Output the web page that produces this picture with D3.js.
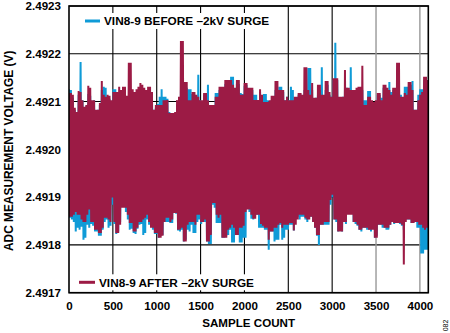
<!DOCTYPE html>
<html>
<head>
<meta charset="utf-8">
<script src="https://cdn.jsdelivr.net/npm/d3@7"></script>
<style>
  html, body { margin: 0; padding: 0; background: #ffffff; }
  svg { display: block; }
  text { font-family: "Liberation Sans", Arial, Helvetica, sans-serif; font-weight: bold; fill: #000; }
</style>
</head>
<body>
<svg id="chart" width="450" height="333"></svg>
<script>
// ---------------- data ----------------
const yTicks = [2.4917, 2.4918, 2.4919, 2.4920, 2.4921, 2.4922, 2.4923];
const xTicks = [0, 500, 1000, 1500, 2000, 2500, 3000, 3500, 4000];
const xTicksGray = [3500, 4000];
const seriesNames = ["VIN8-9 BEFORE \u20132kV SURGE", "VIN8-9 AFTER \u20132kV SURGE"];
const totalSamples = 4096;
const sampleStep = 11; // decimated sample count shown

// VIN8-9 BEFORE -2kV SURGE (V)
const beforeSurge = [
2.492126,2.491857,2.492124,2.491853,2.492108,2.491848,2.492083,2.491828,2.492078,2.491836,
2.492114,2.491832,2.492183,2.491838,2.492103,2.491811,2.492087,2.491815,2.492091,2.491842,
2.492116,2.491836,2.492112,2.491844,2.492099,2.491840,2.492103,2.491828,2.492078,2.491828,
2.492083,2.491819,2.492093,2.491819,2.492124,2.491832,2.492131,2.491848,2.492129,2.491853,
2.492108,2.491836,2.492106,2.491840,2.492095,2.491884,2.492126,2.491844,2.492126,2.491823,
2.492114,2.491828,2.492112,2.491848,2.492118,2.491880,2.492103,2.491880,2.492114,2.491869,
2.492103,2.491853,2.492108,2.491832,2.492114,2.491834,2.492120,2.491825,2.492112,2.491823,
2.492120,2.491834,2.492124,2.491842,2.492126,2.491844,2.492120,2.491821,2.492116,2.491825,
2.492114,2.491853,2.492120,2.491842,2.492114,2.491842,2.492112,2.491832,2.492083,2.491823,
2.492087,2.491823,2.492095,2.491815,2.492110,2.491819,2.492126,2.491821,2.492110,2.491848,
2.492110,2.491848,2.492106,2.491848,2.492078,2.491846,2.492076,2.491846,2.492076,2.491867,
2.492076,2.491865,2.492095,2.491830,2.492103,2.491828,2.492124,2.491832,2.492135,2.491807,
2.492133,2.491811,2.492129,2.491832,2.492126,2.491828,2.492126,2.491842,2.492116,2.491825,
2.492114,2.491825,2.492108,2.491848,2.492156,2.491853,2.492103,2.491844,2.492099,2.491848,
2.492114,2.491848,2.492110,2.491807,2.492135,2.491802,2.492093,2.491802,2.492089,2.491884,
2.492089,2.491878,2.492118,2.491846,2.492118,2.491846,2.492124,2.491846,2.492124,2.491815,
2.492124,2.491815,2.492137,2.491819,2.492137,2.491821,2.492137,2.491832,2.492152,2.491805,
2.492152,2.491805,2.492124,2.491821,2.492137,2.491821,2.492137,2.491805,2.492118,2.491805,
2.492116,2.491815,2.492133,2.491815,2.492135,2.491878,2.492124,2.491869,2.492124,2.491855,
2.492124,2.491853,2.492114,2.491863,2.492114,2.491863,2.492103,2.491836,2.492120,2.491836,
2.492108,2.491836,2.492116,2.491832,2.492116,2.491832,2.492103,2.491790,2.492095,2.491828,
2.492103,2.491828,2.492108,2.491807,2.492124,2.491811,2.492120,2.491811,2.492131,2.491842,
2.492131,2.491811,2.492120,2.491815,2.492103,2.491832,2.492110,2.491832,2.492103,2.491842,
2.492131,2.491842,2.492124,2.491830,2.492103,2.491859,2.492103,2.491859,2.492114,2.491853,
2.492114,2.491859,2.492110,2.491859,2.492124,2.491853,2.492114,2.491848,2.492170,2.491859,
2.492170,2.491859,2.492124,2.491848,2.492103,2.491836,2.492108,2.491819,2.492114,2.491800,
2.492124,2.491842,2.492172,2.491842,2.492112,2.491842,2.492124,2.491842,2.492135,2.491842,
2.492114,2.491884,2.492110,2.491899,2.492145,2.491853,2.492223,2.491848,2.492145,2.491828,
2.492103,2.491832,2.492108,2.491828,2.492110,2.491848,2.492124,2.491844,2.492129,2.491878,
2.492124,2.491878,2.492172,2.491878,2.492120,2.491848,2.492120,2.491844,2.492124,2.491840,
2.492124,2.491832,2.492129,2.491828,2.492124,2.491836,2.492103,2.491836,2.492103,2.491832,
2.492122,2.491832,2.492122,2.491828,2.492099,2.491836,2.492099,2.491815,2.492099,2.491819,
2.492114,2.491842,2.492114,2.491842,2.492108,2.491836,2.492129,2.491836,2.492129,2.491832,
2.492124,2.491832,2.492141,2.491842,2.492120,2.491848,2.492124,2.491844,2.492124,2.491846,
2.492145,2.491848,2.492135,2.491844,2.492114,2.491840,2.492108,2.491832,2.492131,2.491853,
2.492131,2.491853,2.492131,2.491853,2.492135,2.491846,2.492143,2.491846,2.492083,2.491848,
2.492083,2.491836,2.492114,2.491836,2.492126,2.491782,2.492126,2.491782,2.492145,2.491790,
2.492145,2.491790,2.492145
];

// VIN8-9 AFTER -2kV SURGE (V)
const afterSurge = [
2.492118,2.491859,2.492118,2.491859,2.492114,2.491863,2.492087,2.491869,2.492078,2.491863,
2.492122,2.491863,2.492120,2.491853,2.492103,2.491848,2.492089,2.491848,2.492093,2.491863,
2.492133,2.491874,2.492129,2.491848,2.492103,2.491848,2.492103,2.491832,2.492083,2.491832,
2.492083,2.491825,2.492097,2.491825,2.492143,2.491836,2.492114,2.491857,2.492110,2.491857,
2.492114,2.491853,2.492112,2.491848,2.492103,2.491899,2.492120,2.491848,2.492120,2.491825,
2.492120,2.491825,2.492131,2.491842,2.492124,2.491878,2.492131,2.491878,2.492131,2.491878,
2.492112,2.491863,2.492181,2.491846,2.492181,2.491846,2.492126,2.491828,2.492120,2.491828,
2.492126,2.491836,2.492131,2.491848,2.492139,2.491848,2.492135,2.491853,2.492129,2.491857,
2.492124,2.491863,2.492131,2.491848,2.492131,2.491836,2.492120,2.491836,2.492083,2.491825,
2.492093,2.491825,2.492093,2.491815,2.492093,2.491815,2.492093,2.491819,2.492103,2.491848,
2.492103,2.491857,2.492103,2.491857,2.492076,2.491848,2.492076,2.491853,2.492076,2.491867,
2.492078,2.491867,2.492103,2.491832,2.492110,2.491832,2.492227,2.491836,2.492227,2.491807,
2.492141,2.491807,2.492141,2.491842,2.492103,2.491848,2.492103,2.491848,2.492120,2.491848,
2.492120,2.491842,2.492114,2.491863,2.492110,2.491863,2.492103,2.491848,2.492103,2.491848,
2.492118,2.491853,2.492118,2.491807,2.492103,2.491807,2.492093,2.491821,2.492093,2.491888,
2.492093,2.491888,2.492110,2.491863,2.492110,2.491857,2.492131,2.491863,2.492131,2.491815,
2.492131,2.491815,2.492145,2.491815,2.492145,2.491832,2.492145,2.491836,2.492145,2.491842,
2.492135,2.491836,2.492129,2.491821,2.492145,2.491821,2.492145,2.491836,2.492114,2.491836,
2.492114,2.491840,2.492139,2.491869,2.492139,2.491874,2.492129,2.491874,2.492129,2.491863,
2.492129,2.491855,2.492103,2.491855,2.492103,2.491863,2.492103,2.491863,2.492126,2.491844,
2.492114,2.491840,2.492099,2.491836,2.492099,2.491836,2.492099,2.491811,2.492103,2.491828,
2.492112,2.491828,2.492112,2.491836,2.492143,2.491836,2.492143,2.491842,2.492124,2.491846,
2.492124,2.491836,2.492124,2.491842,2.492103,2.491842,2.492110,2.491842,2.492103,2.491846,
2.492103,2.491846,2.492103,2.491830,2.492110,2.491842,2.492110,2.491853,2.492118,2.491863,
2.492118,2.491863,2.492114,2.491863,2.492172,2.491857,2.492172,2.491853,2.492124,2.491853,
2.492114,2.491859,2.492139,2.491848,2.492108,2.491836,2.492108,2.491821,2.492135,2.491821,
2.492135,2.491842,2.492114,2.491842,2.492114,2.491848,2.492143,2.491848,2.492143,2.491848,
2.492120,2.491894,2.492110,2.491905,2.492149,2.491853,2.492149,2.491853,2.492149,2.491828,
2.492110,2.491828,2.492110,2.491828,2.492110,2.491848,2.492166,2.491848,2.492129,2.491863,
2.492129,2.491863,2.492124,2.491863,2.492124,2.491848,2.492124,2.491848,2.492129,2.491842,
2.492131,2.491832,2.492131,2.491832,2.492175,2.491836,2.492093,2.491836,2.492093,2.491836,
2.492110,2.491832,2.492110,2.491832,2.492103,2.491832,2.492099,2.491815,2.492103,2.491815,
2.492118,2.491842,2.492118,2.491842,2.492103,2.491842,2.492135,2.491836,2.492135,2.491836,
2.492129,2.491836,2.492124,2.491842,2.492114,2.491848,2.492129,2.491846,2.492129,2.491846,
2.492181,2.491846,2.492181,2.491846,2.492110,2.491842,2.492110,2.491759,2.492118,2.491848,
2.492114,2.491853,2.492141,2.491853,2.492141,2.491846,2.492124,2.491846,2.492083,2.491848,
2.492083,2.491848,2.492103,2.491842,2.492114,2.491842,2.492120,2.491836,2.492152,2.491832,
2.492152,2.491836,2.492145
];

const colors = ["#0f9bd7", "#9c1b45"];

// ---------------- chart ----------------
const svg = d3.select("#chart");
const plot = { left: 69, right: 428.3, top: 6, bottom: 292.7 };

const x = d3.scaleLinear().domain([0, totalSamples]).range([plot.left, plot.right]);
const y = d3.scaleLinear().domain([yTicks[0], yTicks[yTicks.length - 1]]).range([plot.bottom, plot.top]);

svg.append("rect").attr("width", 450).attr("height", 333).attr("fill", "#fff");

// gridlines
const grid = svg.append("g");
grid.selectAll("line.h").data(yTicks).join("line")
  .attr("x1", plot.left).attr("x2", plot.right)
  .attr("y1", d => y(d)).attr("y2", d => y(d))
  .attr("stroke", "#000").attr("stroke-width", 1.1);
grid.selectAll("line.v").data(xTicks.filter(d => d > 0)).join("line")
  .attr("y1", plot.top).attr("y2", plot.bottom)
  .attr("x1", d => x(d)).attr("x2", d => x(d))
  .attr("stroke", d => xTicksGray.includes(d) ? "#999" : "#000")
  .attr("stroke-width", d => xTicksGray.includes(d) ? 1.4 : 1.1);

// clip
svg.append("clipPath").attr("id", "clip").append("rect")
  .attr("x", plot.left).attr("y", plot.top)
  .attr("width", plot.right - plot.left).attr("height", plot.bottom - plot.top);

const line = d3.line().x((d, i) => x(i * sampleStep)).y(d => y(d));

const dataG = svg.append("g").attr("clip-path", "url(#clip)");
[beforeSurge, afterSurge].forEach((s, k) => {
  dataG.append("path").datum(s)
    .attr("d", line)
    .attr("fill", "none")
    .attr("stroke", colors[k])
    .attr("stroke-width", 2)
    .attr("stroke-linejoin", "bevel");
});

// legends
const legendPos = [{ y: 21, sx: 85, tx: 104 }, { y: 282.3, sx: 79, tx: 99 }];
seriesNames.forEach((name, k) => {
  const p = legendPos[k];
  const g = svg.append("g");
  const t = g.append("text").attr("x", p.tx).attr("y", p.y).attr("dy", "0.36em")
    .attr("font-size", 11.8).text(name);
  const w = t.node().getComputedTextLength();
  g.insert("rect", "text").attr("x", p.sx - 3).attr("y", p.y - 8)
    .attr("width", p.tx - p.sx + w + 6).attr("height", 16).attr("fill", "#fff");
  g.insert("line", "text").attr("x1", p.sx).attr("x2", p.tx - 4)
    .attr("y1", p.y).attr("y2", p.y)
    .attr("stroke", colors[k]).attr("stroke-width", 3);
});

// frame
svg.append("rect").attr("x", plot.left).attr("y", plot.top)
  .attr("width", plot.right - plot.left).attr("height", plot.bottom - plot.top)
  .attr("fill", "none").attr("stroke", "#000").attr("stroke-width", 1.6);

// axes (labels)
const yAxis = d3.axisLeft(y).tickValues(yTicks).tickSize(0).tickPadding(8).tickFormat(d3.format(".4f"));
const gy = svg.append("g").attr("transform", `translate(${plot.left},0)`).call(yAxis);
gy.select(".domain").remove();
gy.selectAll("text").attr("font-size", 11.6).attr("font-family", null).style("font-weight", "bold");

const xAxis = d3.axisBottom(x).tickValues(xTicks).tickSize(0).tickPadding(9.5).tickFormat(d3.format("d"));
const gx = svg.append("g").attr("transform", `translate(0,${plot.bottom})`).call(xAxis);
gx.select(".domain").remove();
gx.selectAll("text").attr("font-size", 11.6).attr("font-family", null).style("font-weight", "bold");

// axis titles
svg.append("text").attr("x", (plot.left + plot.right) / 2).attr("y", 327.3)
  .attr("text-anchor", "middle").attr("font-size", 11.6).text("SAMPLE COUNT");
svg.append("text").attr("transform", `translate(12.8,${(plot.top + plot.bottom) / 2 + 1.5}) rotate(-90)`)
  .attr("text-anchor", "middle").attr("font-size", 11.9).text("ADC MEASUREMENT VOLTAGE (V)");

// figure number
svg.append("text").attr("transform", "translate(447.5,325.5) rotate(-90)")
  .attr("text-anchor", "middle").attr("font-size", 7).style("font-weight", "normal")
  .attr("fill", "#444").text("082");
</script>
</body>
</html>
